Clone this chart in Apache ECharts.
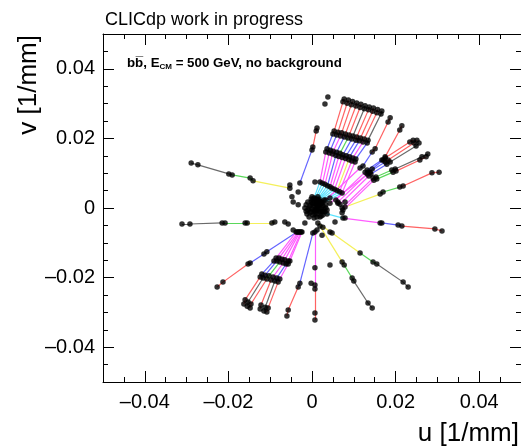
<!DOCTYPE html>
<html><head><meta charset="utf-8">
<script src="https://cdn.jsdelivr.net/npm/echarts@6/dist/echarts.min.js"></script>
<style>html,body{margin:0;padding:0;background:#fff}#c{width:521px;height:448px}</style>
</head><body><div id="c"></div>
<script>
// ---------- axis ticks / labels ----------
const majorTicks = [-0.04, -0.02, 0, 0.02, 0.04];
const minorTicks = [-0.045,-0.035,-0.03,-0.025,-0.015,-0.01,-0.005,0.005,0.01,0.015,0.025,0.03,0.035,0.045];

// ---------- tracks: hits [u, v] and segment type per consecutive pair ----------
const trackUpLeft = [[-0.0053,0.0057],[-0.0141,0.0078],[-0.0148,0.0086],[-0.0191,0.0095],[-0.0199,0.0098],[-0.0273,0.0124],[-0.0289,0.0129]];
const trackUpLeftSeg = 'YGGKKK';
const trackLeft = [[-0.0057,-0.0046],[-0.0065,-0.0040],[-0.0089,-0.0040],[-0.0096,-0.0043],[-0.0155,-0.0043],[-0.0160,-0.0043],[-0.0208,-0.0043],[-0.0215,-0.0043],[-0.0292,-0.0046],[-0.0311,-0.0046]];
const trackLeftSeg = 'NNYYGGKKK';
const trackLowLeft = [[-0.0036,-0.0069],[-0.0108,-0.0126],[-0.0115,-0.0132],[-0.0148,-0.0158],[-0.0153,-0.0161],[-0.0213,-0.0213],[-0.0227,-0.0227]];
const trackLowLeftSeg = 'BBBRRR';

const fanLowLeft = [
  [[-0.0038,-0.0069],[-0.0086,-0.0144],[-0.0091,-0.0152],[-0.0120,-0.0190],[-0.0124,-0.0198],[-0.0160,-0.0264],[-0.0163,-0.0276]],
  [[-0.0033,-0.0069],[-0.0079,-0.0144],[-0.0084,-0.0152],[-0.0112,-0.0193],[-0.0117,-0.0201],[-0.0153,-0.0270],[-0.0155,-0.0282]],
  [[-0.0031,-0.0069],[-0.0072,-0.0147],[-0.0077,-0.0155],[-0.0103,-0.0195],[-0.0108,-0.0204],[-0.0146,-0.0276],[-0.0148,-0.0287]],
  [[-0.0029,-0.0069],[-0.0065,-0.0149],[-0.0069,-0.0158],[-0.0093,-0.0198],[-0.0098,-0.0207],[-0.0122,-0.0279],[-0.0124,-0.0290]],
  [[-0.0026,-0.0069],[-0.0057,-0.0152],[-0.0062,-0.0161],[-0.0084,-0.0201],[-0.0089,-0.0210],[-0.0112,-0.0285],[-0.0115,-0.0296]],
  [[-0.0024,-0.0069],[-0.0053,-0.0152],[-0.0057,-0.0161],[-0.0077,-0.0204],[-0.0081,-0.0213],[-0.0105,-0.0287],[-0.0108,-0.0299]]
];
const fanLowLeftSeg = ['MMBBRR','MMBBKK','MMGGRR','MMMMRR','MMBBKK','MMMMRR'];

const trackDown1 = [[0.0002,-0.0072],[-0.0029,-0.0216],[-0.0033,-0.0227],[-0.0057,-0.0293],[-0.0060,-0.0310]];
const trackDown1Seg = 'BBRR';
const trackDown2 = [[0.0007,-0.0069],[0.0007,-0.0172],[0.0007,-0.0221],[0.0007,-0.0233],[0.0007,-0.0302],[0.0007,-0.0322]];
const trackDown2Seg = 'MMMRR';
const trackLowRight1 = [[0.0014,-0.0043],[0.0048,-0.0072],[0.0115,-0.0129],[0.0146,-0.0155],[0.0155,-0.0161],[0.0218,-0.0213],[0.0230,-0.0227]];
const trackLowRight1Seg = 'YYGGKK';
const trackLowRight2 = [[0.0019,-0.0052],[0.0072,-0.0155],[0.0077,-0.0164],[0.0096,-0.0201],[0.0100,-0.0210],[0.0134,-0.0273],[0.0144,-0.0287]];
const trackLowRight2Seg = 'YYGGKK';
const trackRight = [[0.0010,-0.0006],[0.0036,-0.0017],[0.0074,-0.0029],[0.0163,-0.0043],[0.0167,-0.0043],[0.0206,-0.0049],[0.0215,-0.0052],[0.0294,-0.0060],[0.0311,-0.0066]];
const trackRightSeg = 'CCMMBBRR';
const trackUp = [[-0.0029,0.0072],[0.0000,0.0167],[0.0002,0.0175],[0.0010,0.0221],[0.0012,0.0230],[0.0031,0.0299],[0.0038,0.0319]];
const trackUpSeg = 'BBRRNN';

const fanUp = [
  [[0.0005,0.0029],[0.0019,0.0075],[0.0033,0.0161],[0.0036,0.0170],[0.0050,0.0213],[0.0053,0.0221],[0.0074,0.0305],[0.0077,0.0313]],
  [[0.0007,0.0026],[0.0025,0.0071],[0.0041,0.0158],[0.0044,0.0166],[0.0059,0.0210],[0.0062,0.0218],[0.0084,0.0301],[0.0087,0.0310]],
  [[0.0010,0.0026],[0.0031,0.0068],[0.0049,0.0155],[0.0051,0.0163],[0.0068,0.0207],[0.0071,0.0216],[0.0094,0.0297],[0.0097,0.0306]],
  [[0.0012,0.0023],[0.0037,0.0064],[0.0057,0.0151],[0.0059,0.0160],[0.0077,0.0204],[0.0080,0.0213],[0.0105,0.0293],[0.0107,0.0302]],
  [[0.0014,0.0023],[0.0043,0.0061],[0.0064,0.0148],[0.0067,0.0157],[0.0086,0.0201],[0.0089,0.0210],[0.0115,0.0289],[0.0117,0.0298]],
  [[0.0014,0.0020],[0.0048,0.0057],[0.0072,0.0145],[0.0074,0.0153],[0.0095,0.0198],[0.0098,0.0207],[0.0125,0.0285],[0.0127,0.0294]],
  [[0.0017,0.0020],[0.0054,0.0054],[0.0080,0.0142],[0.0082,0.0150],[0.0105,0.0195],[0.0107,0.0204],[0.0135,0.0282],[0.0137,0.0290]],
  [[0.0019,0.0017],[0.0060,0.0050],[0.0088,0.0139],[0.0090,0.0147],[0.0113,0.0193],[0.0116,0.0201],[0.0145,0.0278],[0.0147,0.0287]],
  [[0.0022,0.0017],[0.0066,0.0047],[0.0095,0.0135],[0.0098,0.0144],[0.0122,0.0190],[0.0125,0.0198],[0.0155,0.0274],[0.0157,0.0283]],
  [[0.0024,0.0014],[0.0072,0.0043],[0.0103,0.0132],[0.0105,0.0141],[0.0132,0.0187],[0.0134,0.0195],[0.0165,0.0270],[0.0167,0.0279]]
];
const fanUpSeg = ['CMBBRRR','CMBBRRR','CMMMRRR','CBBBRRR','CMGGRRR','CMBBKKK','CMBBRRR','CYBBRRR','CMMMRRR','CMBBKKK'];

const fanUpRight = [
  [[0.0033,0.0023],[0.0115,0.0115],[0.0122,0.0121],[0.0144,0.0161],[0.0151,0.0170],[0.0182,0.0247],[0.0187,0.0259]],
  [[0.0043,0.0014],[0.0139,0.0103],[0.0144,0.0112],[0.0170,0.0138],[0.0175,0.0147],[0.0210,0.0224],[0.0215,0.0236]],
  [[0.0057,0.0023],[0.0127,0.0103],[0.0132,0.0109],[0.0167,0.0138],[0.0175,0.0144],[0.0234,0.0190],[0.0242,0.0195]],
  [[0.0062,0.0017],[0.0132,0.0098],[0.0136,0.0103],[0.0175,0.0132],[0.0182,0.0138],[0.0244,0.0187],[0.0251,0.0195]],
  [[0.0067,0.0011],[0.0136,0.0092],[0.0141,0.0098],[0.0179,0.0126],[0.0187,0.0132],[0.0249,0.0178],[0.0256,0.0187]],
  [[0.0072,0.0000],[0.0146,0.0086],[0.0153,0.0089],[0.0191,0.0109],[0.0199,0.0112],[0.0263,0.0147],[0.0277,0.0155]],
  [[0.0074,-0.0006],[0.0148,0.0080],[0.0155,0.0083],[0.0194,0.0103],[0.0201,0.0106],[0.0258,0.0138],[0.0273,0.0147]],
  [[0.0079,0.0003],[0.0163,0.0040],[0.0170,0.0046],[0.0210,0.0060],[0.0218,0.0063],[0.0287,0.0101],[0.0304,0.0103]]
];
const fanUpRightSeg = ['MBBRRR','MBBRRR','MBBRRR','MBBRRR','MBBKKK','MGGKKK','MGGRRR','YGGRRR'];

// unassigned hits near the interaction point
const looseHits = [[-0.0048,0.0032],[-0.0045,0.0017],[-0.0033,0.0009],[0.0007,0.0075],[0.0043,0.0029],[0.0062,0.0014],[0.0079,0.0017],[0.0072,-0.0014],[0.0079,-0.0029],[0.0055,-0.0040],[-0.0017,-0.0043],[0.0012,-0.0063],[0.0026,-0.0055],[0.0043,-0.0069],[0.0024,-0.0078],[-0.0002,-0.0216],[0.0043,-0.0164],[-0.0053,0.0066],[-0.0033,0.0046],[-0.0045,-0.0063]];
const coreHits = [[-0.0014,0.0009],[-0.0010,-0.0006],[-0.0010,0.0017],[-0.0005,-0.0014],[-0.0005,0.0006],[-0.0002,0.0026],[0.0000,-0.0003],[0.0002,0.0014],[0.0002,-0.0020],[0.0005,0.0006],[0.0007,-0.0009],[0.0010,0.0020],[0.0010,0.0003],[0.0012,-0.0017],[0.0012,0.0011],[0.0014,-0.0003],[0.0017,0.0026],[0.0017,-0.0011],[0.0019,0.0009],[0.0022,0.0000],[0.0022,-0.0023],[0.0024,0.0017],[0.0024,-0.0009],[0.0026,0.0006],[0.0029,-0.0003],[0.0029,0.0023],[0.0031,-0.0011],[0.0033,0.0009],[-0.0012,-0.0017],[-0.0007,-0.0026],[0.0005,-0.0029],[0.0014,0.0032],[0.0000,0.0032],[0.0036,-0.0006],[-0.0017,0.0000],[0.0019,-0.0026],[0.0026,-0.0020],[0.0010,-0.0006],[-0.0002,-0.0011],[0.0017,0.0014],
  [0.0000,0.0011],[0.0005,-0.0006],[0.0010,0.0011],[0.0014,0.0006],[0.0019,-0.0009],[0.0007,-0.0017],[-0.0007,0.0000],[-0.0002,0.0017],[0.0022,0.0014],[0.0026,-0.0011],[0.0012,-0.0026],[0.0002,0.0023],[-0.0014,-0.0009],[0.0033,0.0000],[0.0017,0.0000]];

// ---------- styles ----------
const FF = '"Liberation Sans", Arial, Helvetica, sans-serif';
const typeColor = {R:'#ff6262', B:'#6464ff', M:'#ff5cff', Y:'#f4f05a', G:'#5ad85a', C:'#5ae4ff', K:'#6a6a6a'};

// ---------- build ----------
const allTracks = [[trackUpLeft,trackUpLeftSeg],[trackLeft,trackLeftSeg],[trackLowLeft,trackLowLeftSeg],
  [trackDown1,trackDown1Seg],[trackDown2,trackDown2Seg],[trackLowRight1,trackLowRight1Seg],[trackLowRight2,trackLowRight2Seg],
  [trackRight,trackRightSeg],[trackUp,trackUpSeg]];
fanLowLeft.forEach((t,i)=>allTracks.push([t,fanLowLeftSeg[i]]));
fanUp.forEach((t,i)=>allTracks.push([t,fanUpSeg[i]]));
fanUpRight.forEach((t,i)=>allTracks.push([t,fanUpRightSeg[i]]));

const segs = {};
const hits = [];
allTracks.forEach(([pts, seg]) => {
  pts.forEach(p => hits.push(p));
  for (let i = 0; i < pts.length - 1; i++) {
    const t = seg[i];
    if (t === 'N') continue;
    (segs[t] = segs[t] || []).push({coords: [pts[i], pts[i+1]]});
  }
});
looseHits.forEach(p=>hits.push(p));
coreHits.forEach(p=>hits.push(p));

const series = ['K','G','Y','C','B','M','R'].filter(t=>segs[t]).map(t => ({
  type: 'lines', coordinateSystem: 'cartesian2d', xAxisIndex: 0, yAxisIndex: 0,
  polyline: false, silent: true, animation: false, z: 2,
  data: segs[t], lineStyle: {color: typeColor[t], width: 1.2, opacity: 1, curveness: 0}
}));
series.push({type: 'scatter', xAxisIndex: 0, yAxisIndex: 0, data: hits, symbol: 'circle', symbolSize: 5.5,
  itemStyle: {color: '#000'}, silent: true, animation: false, z: 3});

const fmt = v => (Math.abs(v) < 1e-9 ? '0' : (v < 0 ? '\u2013' : '') + Math.abs(v).toFixed(2));
function mkAxis(pos, major, withLabel) {
  return {
    type: 'value', gridIndex: 0, position: pos, min: -0.05, max: 0.05,
    axisLine: {show: major, onZero: false, lineStyle: {color: '#000', width: 1}},
    axisTick: {show: true, inside: true, length: major ? 11 : 5, customValues: major ? majorTicks : minorTicks, lineStyle: {color: '#000', width: 1}},
    axisLabel: {show: withLabel, customValues: majorTicks, formatter: fmt, fontSize: 20, color: '#000', fontFamily: FF,
      margin: (pos === 'bottom') ? 10 : 8},
    splitLine: {show: false}, minorTick: {show: false}
  };
}

const chart = echarts.init(document.getElementById('c'), null, {renderer: 'canvas'});
chart.setOption({
  animation: false,
  backgroundColor: '#fff',
  grid: {left: 103, top: 34, width: 418, height: 348, containLabel: false},
  xAxis: [mkAxis('bottom', true, true), mkAxis('bottom', false, false), mkAxis('top', true, false), mkAxis('top', false, false)],
  yAxis: [mkAxis('left', true, true), mkAxis('left', false, false), mkAxis('right', true, false), mkAxis('right', false, false)],
  series: series,
  graphic: [
    {type: 'text', x: 105, y: 20, style: {text: 'CLICdp work in progress', fontSize: 18, fontFamily: FF, fill: '#000', align: 'left', verticalAlign: 'middle', textAlign: 'left', textVerticalAlign: 'middle'}},
    {type: 'text', x: 29, y: 35, rotation: Math.PI / 2, style: {text: 'v [1/mm]', fontSize: 26, fontFamily: FF, fill: '#000', align: 'right', verticalAlign: 'middle', textAlign: 'right', textVerticalAlign: 'middle'}},
    {type: 'text', x: 519, y: 434, style: {text: 'u [1/mm]', fontSize: 26, fontFamily: FF, fill: '#000', align: 'right', verticalAlign: 'middle', textAlign: 'right', textVerticalAlign: 'middle'}},
    {type: 'text', x: 127, y: 63, style: {
      text: '{a|bb\u0305, E}{s|CM}{a| = 500 GeV, no background}',
      verticalAlign: 'middle', textVerticalAlign: 'middle',
      rich: {
        a: {fontSize: 13.3, fontWeight: 'bold', fontFamily: FF, fill: '#000', color: '#000', lineHeight: 15, verticalAlign: 'middle'},
        s: {fontSize: 8, fontWeight: 'bold', fontFamily: FF, fill: '#000', color: '#000', lineHeight: 8, verticalAlign: 'bottom'}
      }}}
  ]
});
</script></body></html>
